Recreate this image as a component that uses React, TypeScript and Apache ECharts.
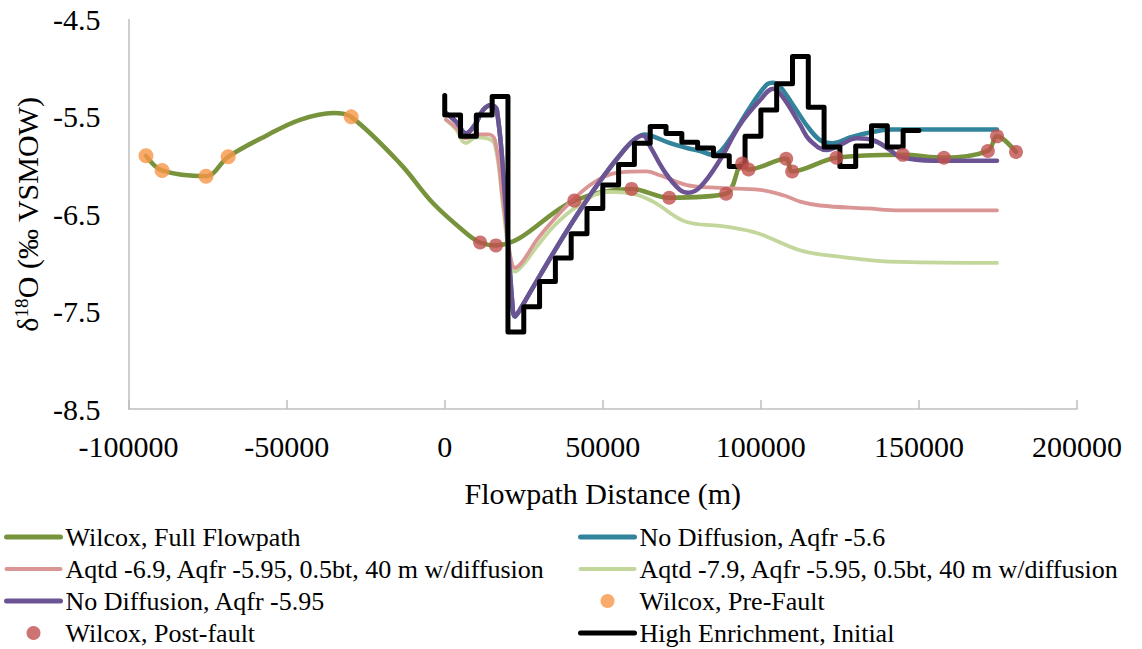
import React, { useEffect, useRef } from "react";
import * as echarts from "echarts";

const FONT = "Liberation Serif";
const FONT_CSS = 'svg text, svg tspan { font-family: "Liberation Serif", "Times New Roman", serif !important; }';

// ---- Data ----
const xTicks = { min: -100000, max: 200000, interval: 50000 };
const yTicks = { min: -8.5, max: -4.5, interval: 1 };

const preFaultX = [-94500, -89400, -75500, -68500, -29600];
const preFaultY = [-5.9, -6.05, -6.11, -5.91, -5.5];

const postFaultX = [11200, 16200, 41000, 59100, 71000, 89000, 94100, 96100, 108000, 109900, 123900, 144900, 157900, 171800, 174700, 180700];
const postFaultY = [-6.79, -6.82, -6.36, -6.24, -6.33, -6.29, -5.98, -6.04, -5.93, -6.06, -5.92, -5.89, -5.92, -5.85, -5.7, -5.86];

const fullX = [-94500, -89400, -75500, -68500, -56300, -45800, -35200, -29600, -14100, -3600, 7000, 11200, 16200, 41000, 59100, 71000, 89000, 94100, 96100, 108000, 109900, 123900, 144900, 157900, 171800, 174700, 180700];
const fullY = [-5.9, -6.05, -6.11, -5.91, -5.69, -5.53, -5.46, -5.5, -5.98, -6.39, -6.7, -6.79, -6.82, -6.36, -6.24, -6.33, -6.29, -5.98, -6.04, -5.93, -6.06, -5.92, -5.89, -5.92, -5.85, -5.7, -5.86];

const noDiff56X = [400, 3600, 6700, 9600, 12100, 14600, 16500, 19100, 21300, 22200, 23800, 30100, 39600, 49100, 57000, 60500, 63400, 65900, 71300, 76600, 80800, 84900, 87100, 91200, 96600, 101800, 103800, 106100, 110800, 115500, 119300, 122800, 128200, 134500, 140900, 174700];
const noDiff56Y = [-5.46, -5.55, -5.67, -5.58, -5.43, -5.38, -5.43, -6.35, -7.38, -7.55, -7.48, -7.13, -6.62, -6.16, -5.83, -5.72, -5.68, -5.7, -5.77, -5.82, -5.85, -5.89, -5.86, -5.68, -5.4, -5.17, -5.15, -5.19, -5.41, -5.63, -5.75, -5.77, -5.71, -5.66, -5.63, -5.63];

const aqtd69X = [400, 3600, 6700, 9900, 13700, 15900, 18400, 20700, 22200, 24500, 29200, 34900, 40600, 46000, 50700, 55400, 63700, 68100, 76600, 87100, 99700, 107600, 112400, 118700, 133600, 144000, 174700];
const aqtd69Y = [-5.53, -5.61, -5.72, -5.68, -5.68, -5.74, -6.35, -6.92, -7.05, -6.99, -6.76, -6.54, -6.35, -6.2, -6.11, -6.07, -6.06, -6.1, -6.2, -6.23, -6.25, -6.31, -6.37, -6.41, -6.44, -6.46, -6.46];

const aqtd79X = [400, 3600, 6700, 9900, 13400, 15900, 18400, 20700, 22200, 24500, 29200, 34900, 41900, 51300, 59600, 65900, 76600, 87100, 97500, 101900, 112400, 120900, 144000, 174700];
const aqtd79Y = [-5.53, -5.63, -5.77, -5.71, -5.72, -5.79, -6.41, -6.99, -7.09, -7.03, -6.83, -6.61, -6.42, -6.27, -6.29, -6.37, -6.58, -6.62, -6.68, -6.73, -6.87, -6.92, -6.99, -7.0];

const noDiff595X = [400, 3600, 6700, 9600, 12100, 14600, 16500, 19100, 21300, 22200, 23800, 30100, 39600, 49100, 57000, 60500, 62700, 64900, 69700, 74400, 77000, 80800, 87100, 93400, 99700, 103900, 107000, 112400, 115500, 120900, 125000, 130400, 135500, 140900, 144000, 154500, 174700];
const noDiff595Y = [-5.46, -5.55, -5.67, -5.58, -5.43, -5.38, -5.43, -6.35, -7.38, -7.55, -7.48, -7.13, -6.62, -6.16, -5.83, -5.72, -5.69, -5.8, -6.07, -6.25, -6.28, -6.22, -5.94, -5.58, -5.33, -5.21, -5.3, -5.58, -5.74, -5.84, -5.79, -5.72, -5.74, -5.84, -5.91, -5.95, -5.95];

const highEnrX = [0, 0, 5000, 10000, 15000, 20000, 25000, 30000, 35000, 40000, 45000, 50000, 55000, 60000, 65000, 70000, 75000, 80000, 85000, 90000, 95000, 100000, 105000, 110000, 115000, 120000, 125000, 130000, 135000, 140000, 145000, 150000];
const highEnrY = [-5.28, -5.48, -5.7, -5.48, -5.29, -7.71, -7.45, -7.19, -6.95, -6.7, -6.44, -6.2, -5.99, -5.77, -5.6, -5.67, -5.76, -5.82, -5.9, -6.01, -5.7, -5.43, -5.16, -4.88, -5.4, -5.81, -6.01, -5.8, -5.59, -5.81, -5.64, -5.64];

const names = {
  full: "Wilcox, Full Flowpath",
  nd56: "No Diffusion, Aqfr -5.6",
  a69: "Aqtd -6.9, Aqfr -5.95, 0.5bt, 40 m w/diffusion",
  a79: "Aqtd -7.9, Aqfr -5.95, 0.5bt, 40 m w/diffusion",
  nd595: "No Diffusion, Aqfr -5.95",
  pre: "Wilcox, Pre-Fault",
  post: "Wilcox, Post-fault",
  high: "High Enrichment, Initial",
};

const zip = (xs: number[], ys: number[]) => xs.map((x, i) => [x, ys[i]]);

export default function App() {
  const ref = useRef<HTMLDivElement>(null);
  useEffect(() => {
    if (!ref.current) return;
    const headStyle = document.createElement("style");
    headStyle.textContent = FONT_CSS;
    document.head.appendChild(headStyle);

    const chart = echarts.init(ref.current, undefined, { renderer: "svg" });
    const lineSeries = (name: string, data: number[][], color: string, width: number, z: number, smooth: number = 0.4) => ({
      name,
      type: "line",
      data,
      smooth,
      symbol: "none",
      z,
      lineStyle: { color, width, cap: "round", join: "round" },
      itemStyle: { color },
    });
    const lineItem = (name: string, width: number) => ({ name, itemStyle: { opacity: 0 }, lineStyle: { width, cap: "round" } });
    const legendText = { fontFamily: FONT, fontSize: 26, color: "#000" };
    chart.setOption({
      animation: false,
      grid: { left: 128.6, right: 65, top: 19.5, bottom: 240, containLabel: false },
      xAxis: {
        type: "value",
        min: xTicks.min,
        max: xTicks.max,
        interval: xTicks.interval,
        name: "Flowpath Distance (m)",
        nameLocation: "middle",
        nameGap: 69,
        nameTextStyle: { fontFamily: FONT, fontSize: 30, color: "#000" },
        axisLine: { show: true, onZero: false, lineStyle: { color: "#BFBFBF", width: 1.5 } },
        axisTick: { show: true, inside: true, length: 9, lineStyle: { color: "#BFBFBF", width: 1.5 } },
        axisLabel: { fontFamily: FONT, fontSize: 30, color: "#000", margin: 22, formatter: (v: number) => String(v) },
        splitLine: { show: false },
      },
      yAxis: {
        type: "value",
        min: yTicks.min,
        max: yTicks.max,
        interval: yTicks.interval,
        name: "δ{sup|18}O (‰ VSMOW)",
        nameLocation: "middle",
        nameRotate: 90,
        nameGap: 86,
        nameTextStyle: {
          fontFamily: FONT,
          fontSize: 30,
          color: "#000",
          rich: { sup: { fontFamily: FONT, fontSize: 19, color: "#000", verticalAlign: "top", lineHeight: 14 } },
        },
        axisLine: { show: true, onZero: false, lineStyle: { color: "#BFBFBF", width: 1.5 } },
        axisTick: { show: false },
        axisLabel: { fontFamily: FONT, fontSize: 30, color: "#000", margin: 28, formatter: (v: number) => String(v) },
        splitLine: { show: false },
      },
      legend: [
        {
          orient: "vertical",
          left: 4,
          top: 524,
          padding: 0,
          itemWidth: 54,
          itemHeight: 14,
          itemGap: 6,
          textStyle: legendText,
          data: [lineItem(names.full, 5), lineItem(names.a69, 4), lineItem(names.nd595, 5), names.post],
        },
        {
          orient: "vertical",
          left: 578,
          top: 524,
          padding: 0,
          itemWidth: 54,
          itemHeight: 14,
          itemGap: 6,
          textStyle: legendText,
          data: [lineItem(names.nd56, 5), lineItem(names.a79, 4), names.pre, lineItem(names.high, 5)],
        },
      ],
      series: [
        lineSeries(names.full, zip(fullX, fullY), "#77933C", 4.5, 2, 0.35),
        lineSeries(names.nd56, zip(noDiff56X, noDiff56Y), "#31849B", 4.5, 3),
        lineSeries(names.a69, zip(aqtd69X, aqtd69Y), "#DA9694", 3.8, 4),
        lineSeries(names.a79, zip(aqtd79X, aqtd79Y), "#C3D69B", 3.8, 3.5),
        lineSeries(names.nd595, zip(noDiff595X, noDiff595Y), "#6C5494", 4.5, 5),
        {
          name: names.pre,
          type: "scatter",
          data: zip(preFaultX, preFaultY),
          symbol: "circle",
          symbolSize: 15,
          z: 7,
          itemStyle: { color: "#F79646" },
        },
        {
          name: names.high,
          type: "line",
          data: zip(highEnrX, highEnrY),
          step: "end",
          symbol: "none",
          z: 6,
          lineStyle: { color: "#000000", width: 5, join: "round", cap: "round" },
          itemStyle: { color: "#000000" },
        },
        {
          name: names.post,
          type: "scatter",
          data: zip(postFaultX, postFaultY),
          symbol: "circle",
          symbolSize: 14,
          z: 8,
          itemStyle: { color: "#C0504D" },
        },
      ],
    });
    const svg = ref.current.querySelector("svg");
    if (svg) {
      const s = document.createElementNS("http://www.w3.org/2000/svg", "style");
      s.textContent = FONT_CSS;
      svg.insertBefore(s, svg.firstChild);
    }
    return () => {
      chart.dispose();
      headStyle.remove();
    };
  }, []);
  return <div ref={ref} style={{ position: "fixed", left: 0, top: 0, width: 1142, height: 649, background: "#fff" }} />;
}
